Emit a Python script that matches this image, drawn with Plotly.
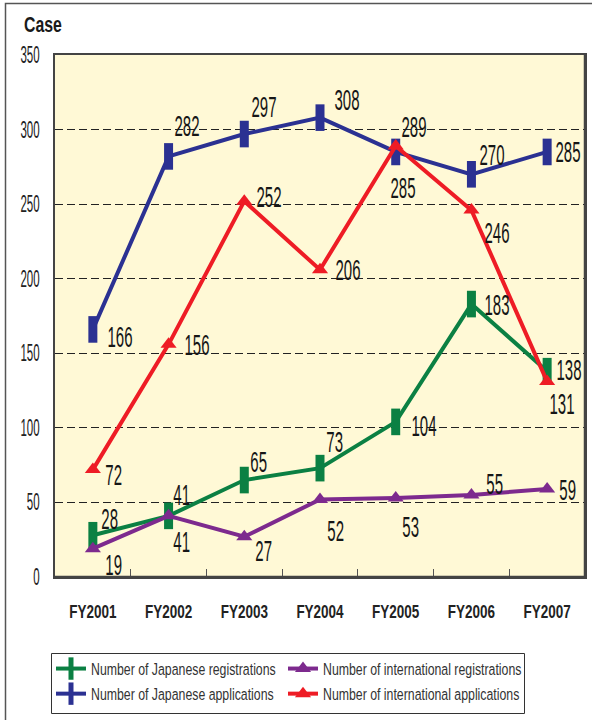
import plotly.graph_objects as go

# Fiscal years and case counts per series
years = ["FY2001", "FY2002", "FY2003", "FY2004", "FY2005", "FY2006", "FY2007"]
jp_registrations = [28, 41, 65, 73, 104, 183, 138]
intl_registrations = [19, 41, 27, 52, 53, 55, 59]
jp_applications = [166, 282, 297, 308, 285, 270, 285]
intl_applications = [72, 156, 252, 206, 289, 246, 131]

y_ticks = [0, 50, 100, 150, 200, 250, 300, 350]

FONT = "Liberation Sans, Arial, sans-serif"

W, H = 592, 720
L, R, T, B = 55, 7, 55, 143
PW, PH = W - L - R, H - T - B


def px_x(x):
    return (x - L) / PW


def px_y(y):
    return (H - B - y) / PH


series = [
    dict(name="Number of Japanese registrations", values=jp_registrations,
         color="#0B8043", kind="rect",
         offsets=[(17, -17), (13, -21), (14, -19), (14, -27), (28, 4), (26, 0), (22, -2)]),
    dict(name="Number of international registrations", values=intl_registrations,
         color="#7D2A8E", kind="tri",
         offsets=[(21, 16), (13, 26), (19, 14), (15, 31), (15, 29), (23, -11), (20, 0)]),
    dict(name="Number of Japanese applications", values=jp_applications,
         color="#2B3192", kind="rect",
         offsets=[(27, 7), (18, -31), (20, -28), (27, -18), (7, 36), (21, -20), (21, 0)]),
    dict(name="Number of international applications", values=intl_applications,
         color="#EE1C25", kind="tri",
         offsets=[(21, 5), (28, 0), (25, -5), (28, 0), (18, -19), (26, 22), (15, 22)]),
]

fig = go.Figure()
annotations = []
for s in series:
    if s["kind"] == "rect":
        marker = dict(symbol="line-ns", size=19,
                      line=dict(width=9, color=s["color"]), color=s["color"])
    else:
        marker = dict(symbol="triangle-up", size=14, color=s["color"])
    fig.add_trace(go.Scatter(
        x=years, y=s["values"], name=s["name"], mode="lines+markers",
        line=dict(color=s["color"], width=4), marker=marker,
    ))
    for yr, v, (dx, dy) in zip(years, s["values"], s["offsets"]):
        annotations.append(dict(
            x=yr, y=v, xref="x", yref="y", text=str(v), showarrow=False,
            xshift=dx, yshift=-dy,
            font=dict(family=FONT, size=30, color="#161616"),
        ))

annotations.append(dict(
    x=px_x(22), y=px_y(25), xref="paper", yref="paper", text="<b>Case</b>",
    showarrow=False, xanchor="left", yanchor="middle",
    font=dict(family=FONT, size=22, color="#1a1a1a"),
))

fig.update_layout(
    width=W, height=H,
    margin=dict(l=L, r=R, t=T, b=B, autoexpand=False),
    paper_bgcolor="white",
    plot_bgcolor="#FFF9D6",
    annotations=annotations,
    shapes=[
        # outer frame around the whole graphic
        dict(type="rect", xref="paper", yref="paper",
             x0=px_x(5.5), y0=px_y(740), x1=px_x(620), y1=px_y(3.5),
             line=dict(color="#555555", width=1.5), layer="below"),
        # heavier right and bottom edges of the plotting area
        dict(type="line", xref="paper", yref="paper", x0=1, x1=1, y0=0, y1=1,
             line=dict(color="#444444", width=2.5)),
        dict(type="line", xref="paper", yref="paper", x0=0, x1=1, y0=0, y1=0,
             line=dict(color="#444444", width=2.5)),
        # legend box
        dict(type="rect", xref="paper", yref="paper",
             x0=px_x(51.5), y0=px_y(713.5), x1=px_x(524.5), y1=px_y(653.5),
             line=dict(color="#333333", width=1), fillcolor="white", layer="above"),
    ],
    xaxis=dict(
        type="category", range=[-0.5, 6.5], automargin=False,
        tickvals=years, ticktext=[f"<b>{y}</b>" for y in years],
        showline=True, linecolor="#444444", linewidth=1.5, mirror=True,
        ticks="inside", tickson="boundaries", ticklen=8, tickcolor="#555555",
        tickwidth=1.2, showgrid=False,
        tickfont=dict(family=FONT, size=18, color="#222222"),
        ticklabelstandoff=18,
    ),
    yaxis=dict(
        range=[0, 350], tickvals=y_ticks, ticktext=[str(t) for t in y_ticks],
        automargin=False,
        showline=True, linecolor="#444444", linewidth=1.5, mirror=True,
        showgrid=True, gridcolor="#222222", gridwidth=1, griddash="8px,4px",
        zeroline=False, ticks="",
        tickfont=dict(family=FONT, size=23, color="#222222"),
        ticklabelstandoff=9,
    ),
    legend=dict(
        orientation="h", x=px_x(51), y=px_y(651), xanchor="left", yanchor="top",
        entrywidth=187, bgcolor="rgba(0,0,0,0)", borderwidth=0,
        font=dict(family=FONT, size=17, color="#333333"),
        traceorder="normal",
    ),
)

# The typeface is a tall condensed grotesque: narrow each text run horizontally
# about its anchor point once the figure has rendered.
condense_js = """
function condense(sel, s, forceAnchor) {
  document.querySelectorAll(sel).forEach(function (t) {
    var bb = t.getBBox();
    var a = forceAnchor || t.getAttribute('text-anchor') || 'start';
    var cx = a === 'middle' ? bb.x + bb.width / 2 : (a === 'end' ? bb.x + bb.width : bb.x);
    var prev = t.getAttribute('transform') || '';
    t.setAttribute('transform', prev + ' translate(' + cx + ',0) scale(' + s + ',1) translate(' + (-cx) + ',0)');
  });
}
document.querySelectorAll('.annotation-text').forEach(function (t) {
  t.classList.add(t.textContent === 'Case' ? 'ttl-text' : 'val-text');
});
condense('.val-text', 0.5);
condense('.ttl-text', 0.72, 'start');
condense('.ytick text', 0.5);
condense('.xtick text', 0.75);
condense('.legendtext', 0.725);
// narrowed legend labels fit the box drawn for them; let them show in full
document.querySelectorAll('.legend [clip-path]').forEach(function (g) {
  g.removeAttribute('clip-path');
});
"""

fig.write_html("out.html", post_script=condense_js)
